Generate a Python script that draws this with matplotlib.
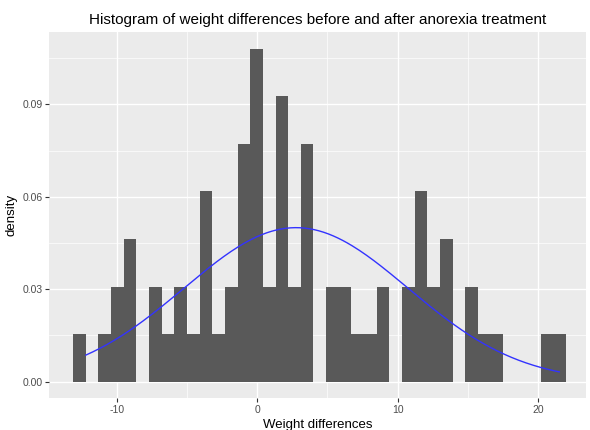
import numpy as np
import matplotlib.pyplot as plt

# histogram of weight differences (counts per bin, 39 bins of width 0.9)
bin_start = -13.1
bin_width = 0.9
counts = [1, 0, 1, 2, 3, 0, 2, 1, 2, 1, 4, 1, 2, 5, 7, 2, 6, 2, 5, 0,
          2, 2, 1, 1, 2, 0, 2, 4, 2, 3, 0, 2, 1, 1, 0, 0, 0, 1, 1]

# normal curve fitted to the differences
mean_diff = 2.76
sd_diff = 7.98
x_min, x_max = -12.2, 21.5

xticks = [-10, 0, 10, 20]
yticks = [0.00, 0.03, 0.06, 0.09]
ytick_labels = ["0.00", "0.03", "0.06", "0.09"]

BG = "#FFFFFF"
PANEL = "#EBEBEB"
BAR = "#595959"
TXT = "#4D4D4D"

plt.rcParams['font.family'] = ['Liberation Sans', 'DejaVu Sans']

fig = plt.figure(figsize=(5.9, 4.3), dpi=100)
fig.patch.set_facecolor(BG)
ax = fig.add_axes([0.0836, 0.0737, 0.9096, 0.8512])
ax.set_facecolor(PANEL)

n = sum(counts)
edges = bin_start + bin_width * np.arange(len(counts) + 1)
dens = np.array(counts) / (n * bin_width)
ax.bar(edges[:-1], dens, width=bin_width, align='edge', color=BAR,
       linewidth=0, zorder=2)

xs = np.linspace(x_min, x_max, 200)
ys = np.exp(-0.5 * ((xs - mean_diff) / sd_diff) ** 2) / (sd_diff * np.sqrt(2 * np.pi))
ax.plot(xs, ys, color="#3333FF", linewidth=1.0, zorder=3)

ax.set_xlim(-14.8, 23.4)
ax.set_ylim(-0.0054, 0.1134)

ax.set_xticks(xticks)
ax.set_xticklabels([str(t) for t in xticks])
ax.set_yticks(yticks)
ax.set_yticklabels(ytick_labels)
ax.set_xticks([-5, 5, 15], minor=True)
ax.set_yticks([0.015, 0.045, 0.075, 0.105], minor=True)
ax.grid(which='major', color='white', linewidth=1.0, zorder=0)
ax.grid(which='minor', color='white', linewidth=0.5, zorder=0)
ax.set_axisbelow(True)
for s in ax.spines.values():
    s.set_visible(False)
ax.tick_params(which='major', length=3, color='#333333', width=0.8,
               labelsize=7.5, labelcolor=TXT, pad=2)
ax.tick_params(which='minor', length=0)

ax.set_xlabel("Weight differences", fontsize=9.5, color='black', labelpad=3)
ax.set_ylabel("density", fontsize=9.5, color='black', labelpad=3)
ax.set_title("Histogram of weight differences before and after anorexia treatment",
             fontsize=11, color='black', pad=6)

plt.savefig('out.png', dpi=100, facecolor=BG)
print("saved")
